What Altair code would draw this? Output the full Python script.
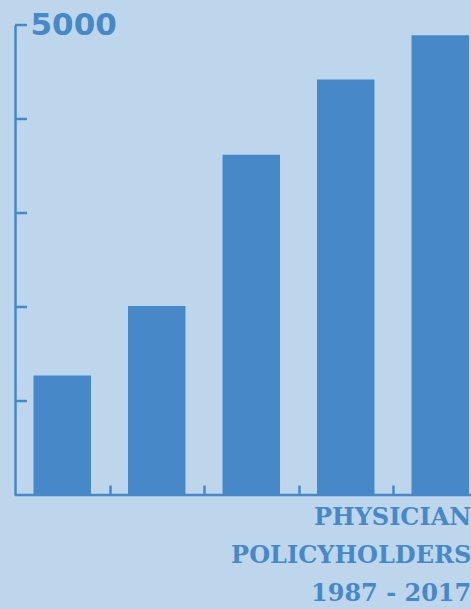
import altair as alt
import pandas as pd

years = ["1987", "1995", "2002", "2010", "2017"]
policyholders = [1270, 2010, 3620, 4420, 4890]
y_ticks = [1000, 2000, 3000, 4000, 5000]
title_lines = ["PHYSICIAN", "POLICYHOLDERS", "1987 - 2017"]

BG = "#bed6eb"
BAR = "#4688c8"
AX = "#4688c8"

df = pd.DataFrame({"year": years, "value": policyholders})
tdf = pd.DataFrame({"t": y_ticks})

yscale = alt.Scale(domain=[0, 5000], nice=False)

bars = alt.Chart(df).mark_bar(color=BAR).encode(
    x=alt.X("year:N", sort=None, title=None,
            scale=alt.Scale(range=[0, 472.5], paddingInner=0.392, paddingOuter=0.196),
            axis=alt.Axis(domain=False, labels=False, ticks=True, tickOffset=47.25,
                          tickSize=10, offset=-10, tickColor=AX, tickWidth=2.5, grid=False)),
    y=alt.Y("value:Q", scale=yscale, title=None,
            axis=alt.Axis(domain=True, domainColor=AX, domainWidth=2.5, ticks=False,
                          grid=False, values=[5000], labelExpr="datum.value == 5000 ? '5000' : ''",
                          labelAlign="left", labelBaseline="middle", labelPadding=-15,
                          labelFont="DejaVu Sans", labelFontSize=31, labelFontWeight="bold",
                          labelColor=AX)),
)

yt = alt.Chart(tdf).mark_rule(color=AX, strokeWidth=2.5).encode(
    y=alt.Y("t:Q", scale=yscale),
    x=alt.value(0),
    x2=alt.value(12),
)

base = alt.Chart(pd.DataFrame({"z": [0]})).mark_rule(color=AX, strokeWidth=2.5).encode(
    y=alt.Y("z:Q", scale=yscale),
    x=alt.value(0),
    x2=alt.value(472),
)

chart = alt.layer(bars, yt, base).properties(
    width=456,
    height=470,
    background=BG,
    padding={"left": 15, "top": 25, "right": 0, "bottom": 114},
    autosize=alt.AutoSizeParams(type="none"),
    title=alt.TitleParams(
        text=title_lines, orient="bottom", anchor="end", baseline="top",
        font="DejaVu Serif", fontSize=24, fontWeight="bold", color=AX,
        lineHeight=38, offset=10, dx=-18,
    ),
).configure_view(stroke=None)

chart.save("out.html", embed_options={"renderer": "svg", "actions": False})
